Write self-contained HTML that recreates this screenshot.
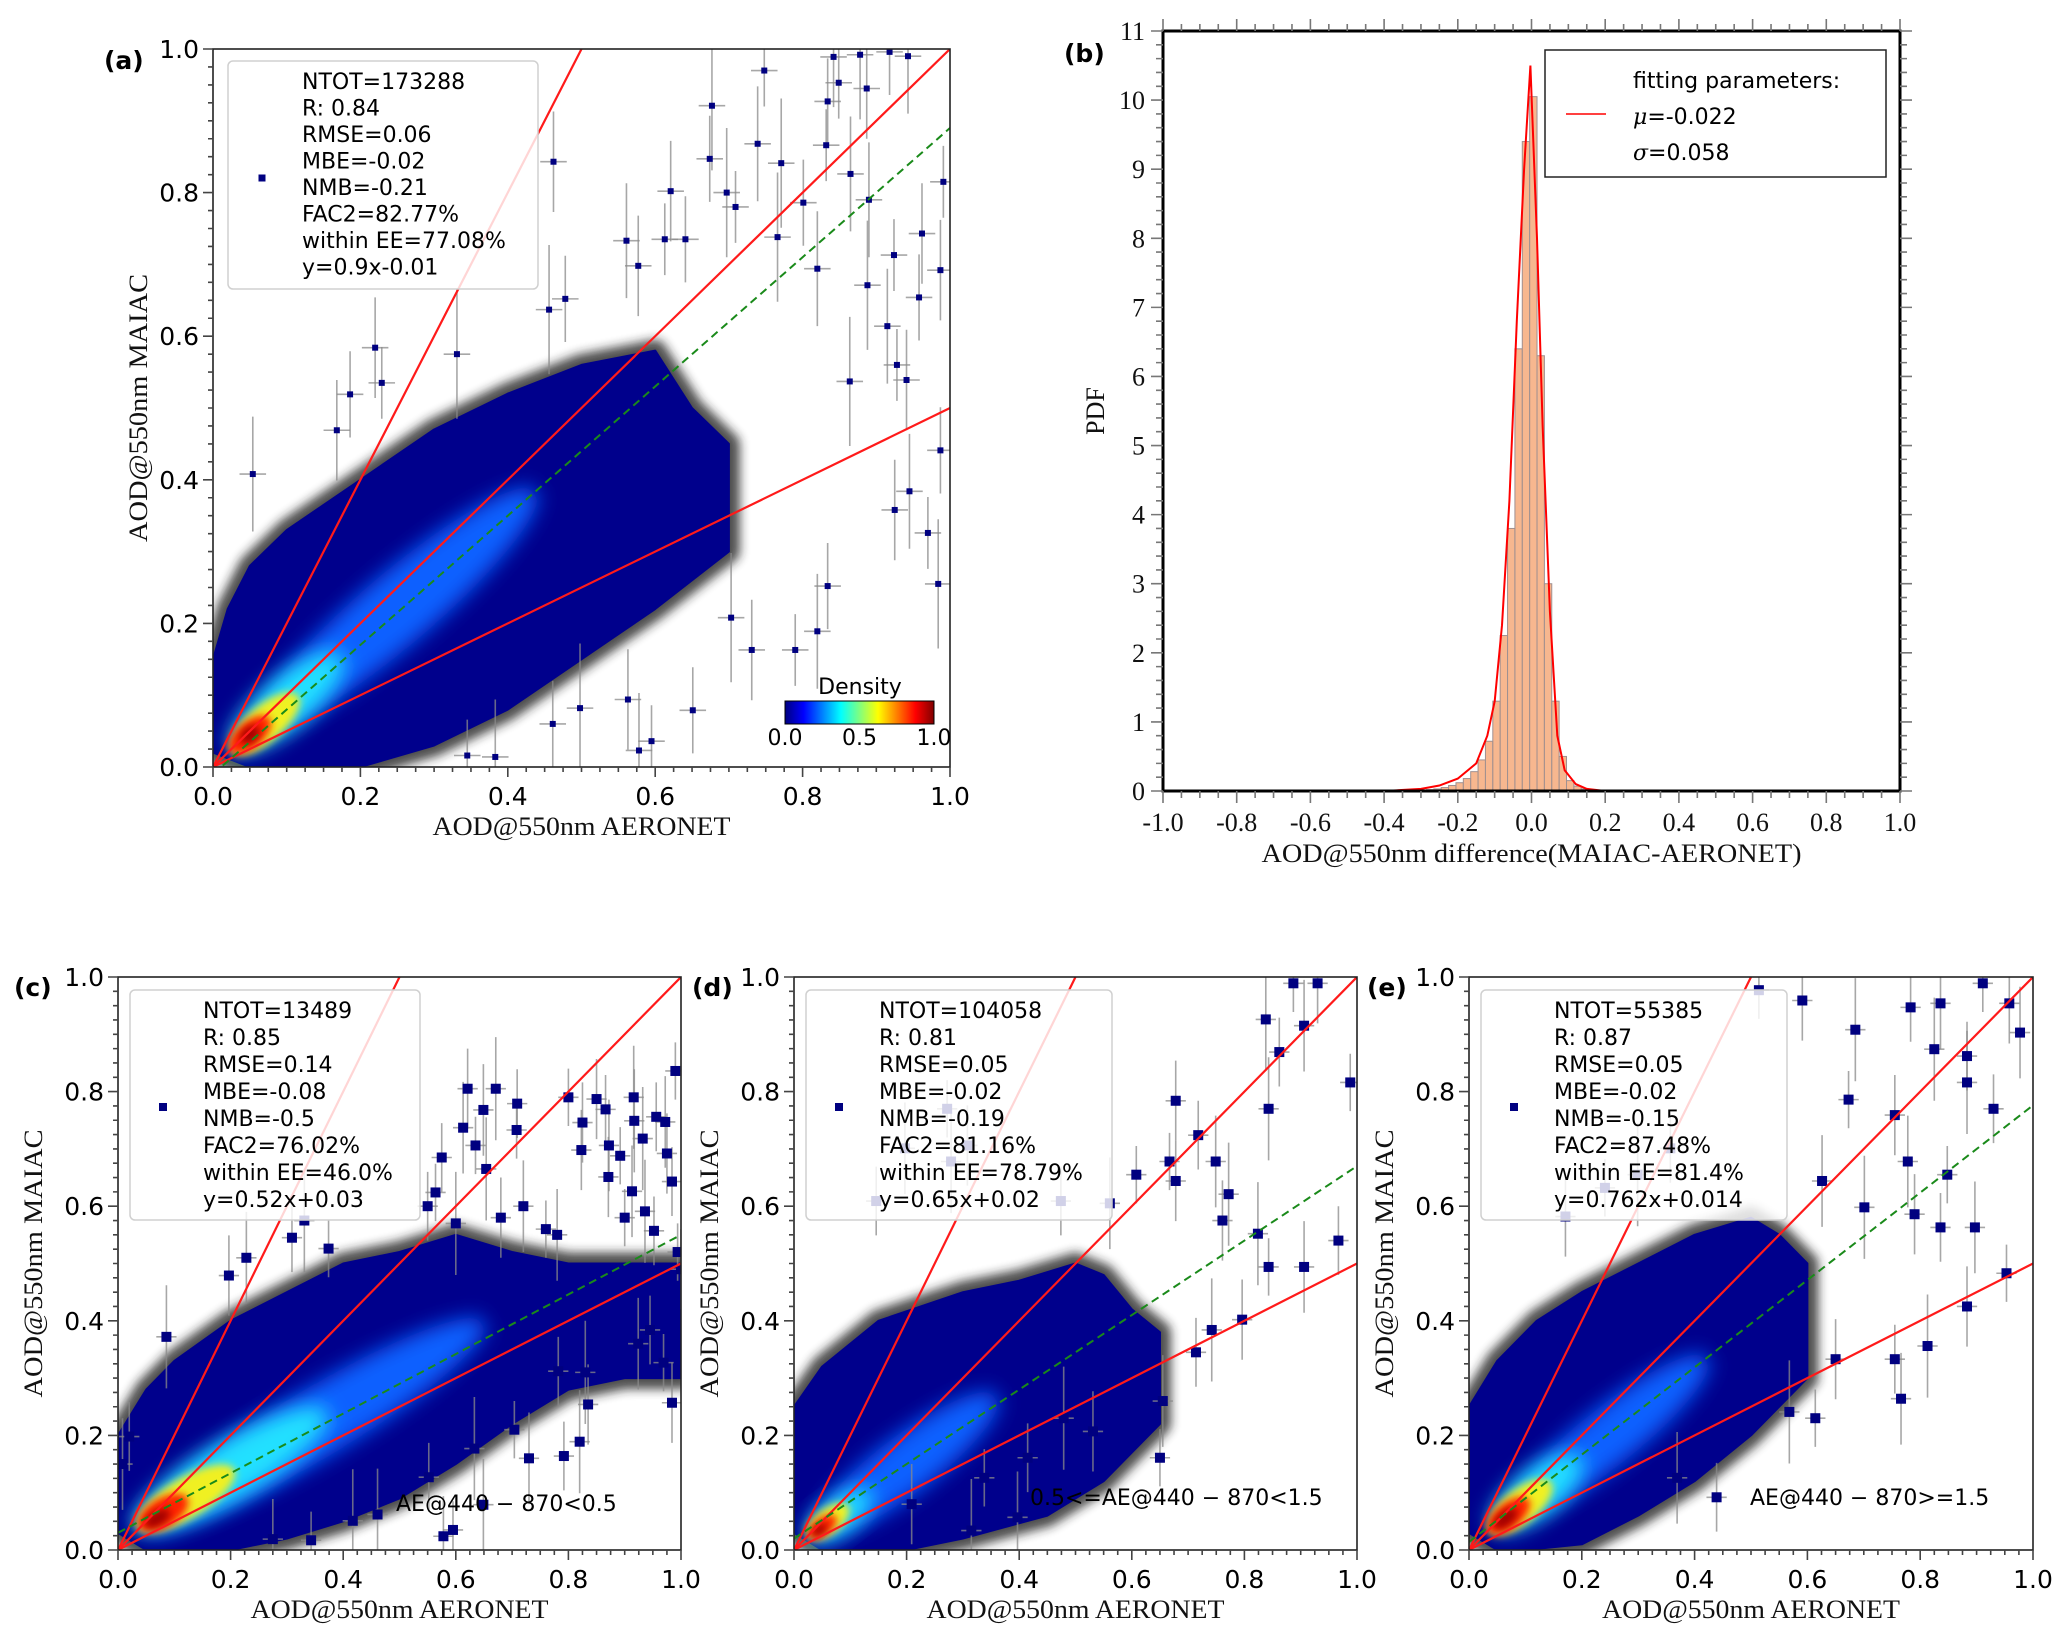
<!DOCTYPE html>
<html><head><meta charset="utf-8"><style>
html,body{margin:0;padding:0;background:#fff;}
svg{display:block;}
.tk{font-family:"DejaVu Sans","Liberation Sans",sans-serif;font-size:25px;fill:#000;}
.ser{font-family:"Liberation Serif","DejaVu Serif",serif;fill:#111;}
.lg{font-family:"DejaVu Sans","Liberation Sans",sans-serif;font-size:22px;fill:#000;}
</style></head><body>
<svg id="fig" xmlns="http://www.w3.org/2000/svg" width="2067" height="1632" viewBox="0 0 2067 1632">
<defs>
<filter id="blur" x="-50%" y="-50%" width="200%" height="200%"><feGaussianBlur stdDeviation="10"/></filter>
<filter id="blur2" x="-50%" y="-50%" width="200%" height="200%"><feGaussianBlur stdDeviation="4"/></filter>
<filter id="blur3" x="-20%" y="-20%" width="140%" height="140%"><feGaussianBlur stdDeviation="5"/></filter>
<linearGradient id="jet" x1="0" x2="1" y1="0" y2="0">
<stop offset="0" stop-color="#000080"/><stop offset="0.125" stop-color="#0000ff"/><stop offset="0.375" stop-color="#00ffff"/><stop offset="0.625" stop-color="#ffff00"/><stop offset="0.875" stop-color="#ff0000"/><stop offset="1" stop-color="#800000"/>
</linearGradient>
</defs>
</svg>
<script>
// ---------- Panel (a) data ----------
const aPtsX=[0.748,0.842,0.878,0.918,0.943,0.849,0.887,0.677,0.834,0.739,0.832,0.462,0.771,0.674,0.865,0.991,0.621,0.697,0.801,0.89,0.709,0.962,0.766,0.641,0.82,0.924,0.987,0.888,0.958,0.915,0.928,0.941,0.864,0.987,0.945,0.97,0.925,0.984,0.834,0.82,0.79,0.731,0.703,0.651,0.578,0.595,0.563,0.498,0.461,0.383,0.345,0.22,0.331,0.186,0.054,0.229,0.168,0.456,0.478,0.561,0.613,0.577];
const aPtsY=[0.970,0.989,0.992,0.996,0.99,0.953,0.945,0.921,0.927,0.868,0.866,0.843,0.841,0.847,0.826,0.815,0.802,0.8,0.786,0.79,0.78,0.743,0.738,0.735,0.694,0.713,0.692,0.671,0.654,0.614,0.56,0.539,0.537,0.441,0.384,0.326,0.358,0.255,0.252,0.189,0.163,0.163,0.208,0.079,0.023,0.036,0.094,0.082,0.06,0.014,0.016,0.584,0.575,0.519,0.408,0.535,0.469,0.637,0.652,0.733,0.735,0.698];
const aBandX=[0,0,0.02,0.05,0.1,0.2,0.3,0.4,0.5,0.6,0.65,0.7,0.7,0.6,0.5,0.4,0.3,0.2,0.05];
const aBandY=[0.02,0.15,0.22,0.28,0.33,0.4,0.47,0.52,0.56,0.58,0.5,0.45,0.3,0.22,0.15,0.08,0.03,0.0,0.0];
const aCoreX=[0.25,0.1,0.07,0.05,0.05];
const aCoreY=[0.22,0.09,0.06,0.045,0.045];
const aCoreLen=[0.25,0.1,0.06,0.035,0.015];
const aCoreWid=[0.05,0.035,0.025,0.018,0.01];
const aLegend=["NTOT=173288","R: 0.84","RMSE=0.06","MBE=-0.02","NMB=-0.21","FAC2=82.77%","within EE=77.08%","y=0.9x-0.01"];
const aFit=[0.9,-0.01];
// ---------- Panel (c) data ----------
const cPtsX=[0.99,0.621,0.671,0.709,0.649,0.8,0.85,0.916,0.866,0.613,0.708,0.825,0.917,0.956,0.972,0.635,0.823,0.932,0.575,0.872,0.892,0.975,0.654,0.984,0.913,0.564,0.871,0.331,0.309,0.228,0.374,0.197,0.086,0.945,0.924,0.969,0.984,0.82,0.792,0.73,0.704,0.835,0.83,0.782,0.649,0.595,0.578,0.633,0.552,0.461,0.343,0.275,0.417,0.02,0.008,0.994,1.0,0.936,0.952,0.72,0.76,0.68,0.6,0.55,0.78,0.9];
const cPtsY=[0.836,0.805,0.805,0.779,0.768,0.79,0.787,0.79,0.769,0.737,0.733,0.746,0.749,0.756,0.747,0.706,0.698,0.718,0.685,0.706,0.688,0.692,0.665,0.643,0.626,0.624,0.651,0.575,0.545,0.51,0.526,0.479,0.372,0.384,0.36,0.327,0.257,0.189,0.164,0.16,0.21,0.254,0.31,0.312,0.079,0.035,0.024,0.177,0.127,0.062,0.017,0.019,0.051,0.198,0.15,0.52,0.49,0.591,0.557,0.6,0.56,0.58,0.57,0.6,0.55,0.58];
const cBandX=[0,0,0.05,0.1,0.2,0.3,0.4,0.5,0.6,0.7,0.8,0.9,1.0,1.0,0.9,0.8,0.7,0.6,0.5,0.4,0.3,0.2,0.05];
const cBandY=[0.03,0.2,0.28,0.33,0.4,0.45,0.5,0.52,0.55,0.52,0.5,0.5,0.5,0.3,0.3,0.28,0.22,0.15,0.09,0.05,0.02,0.0,0.0];
const cCoreX=[0.35,0.2,0.12,0.08,0.07];
const cCoreY=[0.22,0.14,0.09,0.065,0.055];
const cCoreLen=[0.35,0.2,0.1,0.05,0.025];
const cCoreWid=[0.06,0.05,0.035,0.025,0.012];
const cLegend=["NTOT=13489","R: 0.85","RMSE=0.14","MBE=-0.08","NMB=-0.5","FAC2=76.02%","within EE=46.0%","y=0.52x+0.03"];
const cFit=[0.52,0.03];
// ---------- Panel (d) data ----------
const dPtsX=[0.887,0.93,0.838,0.862,0.906,0.988,0.678,0.843,0.718,0.749,0.608,0.678,0.772,0.967,0.906,0.843,0.796,0.742,0.714,0.655,0.65,0.531,0.479,0.415,0.397,0.338,0.209,0.315,0.146,0.197,0.272,0.308,0.279,0.474,0.561,0.667,0.761,0.824];
const dPtsY=[0.989,0.989,0.926,0.869,0.915,0.816,0.784,0.770,0.724,0.678,0.655,0.644,0.621,0.540,0.494,0.494,0.402,0.384,0.345,0.26,0.161,0.207,0.23,0.161,0.057,0.126,0.080,0.034,0.609,0.701,0.770,0.706,0.678,0.609,0.605,0.678,0.575,0.552];
const dBandX=[0,0,0.05,0.15,0.3,0.4,0.5,0.55,0.6,0.65,0.65,0.55,0.45,0.3,0.2,0.05];
const dBandY=[0.03,0.25,0.32,0.4,0.45,0.47,0.5,0.48,0.42,0.38,0.22,0.12,0.06,0.02,0.0,0.0];
const dCoreX=[0.2,0.08,0.06,0.05,0.045];
const dCoreY=[0.15,0.06,0.05,0.04,0.035];
const dCoreLen=[0.2,0.07,0.045,0.03,0.015];
const dCoreWid=[0.05,0.03,0.022,0.015,0.008];
const dLegend=["NTOT=104058","R: 0.81","RMSE=0.05","MBE=-0.02","NMB=-0.19","FAC2=81.16%","within EE=78.79%","y=0.65x+0.02"];
const dFit=[0.65,0.02];
// ---------- Panel (e) data ----------
const ePtsX=[0.514,0.591,0.685,0.783,0.836,0.911,0.958,0.825,0.883,0.977,0.673,0.755,0.883,0.93,0.778,0.848,0.79,0.701,0.836,0.897,0.953,0.883,0.813,0.755,0.766,0.614,0.65,0.568,0.439,0.369,0.241,0.171,0.299,0.357,0.626];
const ePtsY=[0.977,0.959,0.908,0.947,0.954,0.989,0.954,0.874,0.862,0.903,0.786,0.759,0.816,0.770,0.678,0.655,0.586,0.598,0.563,0.563,0.483,0.425,0.356,0.333,0.264,0.23,0.333,0.241,0.092,0.126,0.632,0.582,0.655,0.701,0.644];
const eBandX=[0,0,0.05,0.12,0.2,0.3,0.4,0.5,0.55,0.6,0.6,0.5,0.4,0.3,0.2,0.1,0.05];
const eBandY=[0.03,0.25,0.33,0.4,0.45,0.5,0.55,0.58,0.55,0.5,0.3,0.2,0.12,0.06,0.01,0.0,0.0];
const eCoreX=[0.25,0.12,0.09,0.07,0.065];
const eCoreY=[0.2,0.1,0.075,0.06,0.055];
const eCoreLen=[0.22,0.1,0.07,0.045,0.025];
const eCoreWid=[0.05,0.04,0.03,0.022,0.012];
const eLegend=["NTOT=55385","R: 0.87","RMSE=0.05","MBE=-0.02","NMB=-0.15","FAC2=87.48%","within EE=81.4%","y=0.762x+0.014"];
const eFit=[0.762,0.014];
// ---------- Panel (b) data ----------
const binLeft=[-0.325,-0.305,-0.285,-0.265,-0.245,-0.225,-0.205,-0.185,-0.165,-0.145,-0.125,-0.105,-0.085,-0.065,-0.045,-0.025,-0.005,0.015,0.035,0.055,0.075,0.095,0.115,0.135];
const binPdf=[0.01,0.01,0.02,0.03,0.05,0.08,0.12,0.18,0.28,0.45,0.72,1.3,2.25,3.8,6.4,9.4,10.05,6.3,3.0,1.3,0.5,0.15,0.07,0.03];
const fitX=[-1.0,-0.4,-0.3,-0.25,-0.2,-0.15,-0.12,-0.1,-0.08,-0.06,-0.04,-0.02,-0.003,0.015,0.03,0.05,0.07,0.09,0.12,0.15,0.2,1.0];
const fitY=[0,0,0.03,0.08,0.18,0.4,0.8,1.3,2.4,4.2,6.8,9.0,10.5,8.0,5.3,2.6,0.8,0.3,0.1,0.03,0.0,0];
const bXTicks=["-1.0","-0.8","-0.6","-0.4","-0.2","0.0","0.2","0.4","0.6","0.8","1.0"];
const bYTicks=["0","1","2","3","4","5","6","7","8","9","10","11"];
const sTicks=["0.0","0.2","0.4","0.6","0.8","1.0"];

const NS="http://www.w3.org/2000/svg";
const svg=document.getElementById('fig');
function mk(tag,attrs,parent){const e=document.createElementNS(NS,tag);for(const k in attrs)e.setAttribute(k,attrs[k]);(parent||svg).appendChild(e);return e;}
let clipN=0;

function scatterPanel(P){
  const g=mk('g',{});
  
  
  const sx=v=>P.x0+(P.x1-P.x0)*v, sy=v=>P.y1-(P.y1-P.y0)*v;
  const W=P.x1-P.x0,H=P.y1-P.y0;
  const cid='clip'+(clipN++);
  const cp=mk('clipPath',{id:cid},g);
  mk('rect',{x:P.x0,y:P.y0,width:W,height:H},cp);
  const plot=mk('g',{'clip-path':'url(#'+cid+')'},g);
  
  
  let d='';
  for(let i=0;i<P.bx.length;i++)d+=(i?'L':'M')+sx(P.bx[i]).toFixed(1)+','+sy(P.by[i]).toFixed(1);
  d+='Z';
  const halo=mk('path',{d:d,fill:'#111',stroke:'#222','stroke-width':22,'stroke-linejoin':'round',opacity:0.8,filter:'url(#blur3)'},plot);
  
  
  const band=mk('path',{d:d,fill:'#00008c',stroke:'#00008c','stroke-width':2,'stroke-linejoin':'round'},plot);
  
  
  const cols=['#1060ff','#20e0ff','#f0f020','#ff2000','#a00000'];
  const m=(P.cy[0]-P.cy[P.cy.length-1])/(P.cx[0]-P.cx[P.cx.length-1]||1);
  const dxp=W, dyp=H*m; const ang=Math.atan2(-dyp,dxp)*180/Math.PI;
  const unitLen=Math.sqrt(dxp*dxp+dyp*dyp)/Math.sqrt(1+m*m);
  for(let i=0;i<P.cx.length;i++){
    const e=mk('ellipse',{cx:sx(P.cx[i]),cy:sy(P.cy[i]),rx:P.cl[i]*unitLen,ry:P.cw[i]*H,fill:cols[i],filter:i<2?'url(#blur)':'url(#blur2)',transform:'rotate('+ang+' '+sx(P.cx[i])+' '+sy(P.cy[i])+')'},plot);
    
    
  }
  for(let i=0;i<P.px.length;i++){
    const x=sx(P.px[i]),y=sy(P.py[i]);
    const ey=(0.05+0.04*((i*7)%5)/4)*H, ex=0.018*W;
    const eb=mk('path',{d:'M'+x+','+(y-ey)+'V'+(y+ey)+'M'+(x-ex)+','+y+'H'+(x+ex),stroke:'#8a8a8a','stroke-width':1.6,opacity:0.75},plot);
    
    
  }
  for(let i=0;i<P.px.length;i++){
    const x=sx(P.px[i]),y=sy(P.py[i]),s=P.ms;
    const r=mk('rect',{x:x-s/2,y:y-s/2,width:s,height:s,fill:'#000080'},plot);
    
    
  }
  const refs=[[2,0],[1,0],[0.5,0]];
  refs.forEach((r,i)=>{
    const l=mk('line',{x1:sx(0),y1:sy(r[1]),x2:sx(1),y2:sy(r[0]+r[1]),stroke:'#ff1a1a','stroke-width':2.2},plot);
    
    
  });
  const fl=mk('line',{x1:sx(0),y1:sy(P.fit[1]),x2:sx(1),y2:sy(P.fit[0]+P.fit[1]),stroke:'#1a8a1a','stroke-width':2,'stroke-dasharray':'8,5'},plot);
  
  
  const fr=mk('rect',{x:P.x0,y:P.y0,width:W,height:H,fill:'none',stroke:'#222','stroke-width':1.6},g);
  
  
  let td='';
  for(let k=0;k<=40;k++){const v=k/40;const len=(k%8===0)?10:5;
    td+='M'+sx(v)+','+P.y1+'V'+(P.y1+len);
    td+='M'+P.x0+','+sy(v)+'H'+(P.x0-len);}
  const tk=mk('path',{d:td,stroke:'#444','stroke-width':1.6},g);
  
  
  sTicks.forEach((t,i)=>{
    const v=i/(sTicks.length-1);
    const xt=mk('text',{x:sx(v),y:P.y1+38,'text-anchor':'middle',class:'tk'},g);xt.textContent=t;
    
    
    const yt=mk('text',{x:P.x0-14,y:sy(v)+9,'text-anchor':'end',class:'tk'},g);yt.textContent=t;
    
    
  });
  const xl=mk('text',{x:(P.x0+P.x1)/2,y:P.y1+68,'text-anchor':'middle',class:'ser','font-size':26,textLength:298,lengthAdjust:'spacingAndGlyphs'},g);
  xl.textContent='AOD@550nm AERONET';
  
  
  const yc=(P.y0+P.y1)/2, ylx=P.x0-P.ylo;
  const yl=mk('text',{x:ylx,y:yc,'text-anchor':'middle',class:'ser','font-size':26,textLength:268,lengthAdjust:'spacingAndGlyphs',transform:'rotate(-90 '+ylx+' '+yc+')'},g);
  yl.textContent='AOD@550nm MAIAC';
  
  
  const L=P.leg;
  const lb=mk('rect',{x:L.x,y:L.y,width:L.w,height:L.h,rx:5,fill:'rgba(255,255,255,0.82)',stroke:'#d0d0d0','stroke-width':1.5},g);
  
  
  const lm=mk('rect',{x:L.mx-L.ms/2,y:L.my-L.ms/2,width:L.ms,height:L.ms,fill:'#000080'},g);
  
  
  P.lines.forEach((t,i)=>{
    const tx=mk('text',{x:L.tx,y:L.ty+i*L.dy,class:'lg'},g);tx.textContent=t;
    
    
  });
  const pl=mk('text',{x:P.lab[0],y:P.lab[1],'font-family':'"DejaVu Sans","Liberation Sans",sans-serif','font-weight':'bold','font-size':25},g);
  pl.textContent=P.label;
  
  
  if(P.ann){const an=mk('text',{x:P.ann[0],y:P.ann[1],class:'lg','font-size':23},g);an.textContent=P.annText;
    
    }
  return g;
}

scatterPanel({name:'panel-a',x0:213,x1:950,y0:49,y1:767,px:aPtsX,py:aPtsY,bx:aBandX,by:aBandY,cx:aCoreX,cy:aCoreY,cl:aCoreLen,cw:aCoreWid,fit:aFit,ms:6,ylo:66,
  leg:{x:228,y:61,w:310,h:228,tx:302,ty:89,dy:26.5,mx:262,my:178,ms:7},lines:aLegend,label:'(a)',lab:[104,69]});
scatterPanel({name:'panel-c',x0:118,x1:681,y0:977,y1:1550,px:cPtsX,py:cPtsY,bx:cBandX,by:cBandY,cx:cCoreX,cy:cCoreY,cl:cCoreLen,cw:cCoreWid,fit:cFit,ms:10,ylo:76,
  leg:{x:130,y:990,w:290,h:230,tx:203,ty:1018,dy:27,mx:163,my:1107,ms:8},lines:cLegend,label:'(c)',lab:[14,996],ann:[396,1511],annText:'AE@440 − 870<0.5'});
scatterPanel({name:'panel-d',x0:794,x1:1357,y0:977,y1:1550,px:dPtsX,py:dPtsY,bx:dBandX,by:dBandY,cx:dCoreX,cy:dCoreY,cl:dCoreLen,cw:dCoreWid,fit:dFit,ms:10,ylo:76,
  leg:{x:806,y:990,w:306,h:230,tx:879,ty:1018,dy:27,mx:839,my:1107,ms:8},lines:dLegend,label:'(d)',lab:[692,996],ann:[1030,1505],annText:'0.5<=AE@440 − 870<1.5'});
scatterPanel({name:'panel-e',x0:1469,x1:2033,y0:977,y1:1550,px:ePtsX,py:ePtsY,bx:eBandX,by:eBandY,cx:eCoreX,cy:eCoreY,cl:eCoreLen,cw:eCoreWid,fit:eFit,ms:10,ylo:76,
  leg:{x:1481,y:990,w:306,h:230,tx:1554,ty:1018,dy:27,mx:1514,my:1107,ms:8},lines:eLegend,label:'(e)',lab:[1367,996],ann:[1750,1505],annText:'AE@440 − 870>=1.5'});

(function(){
  const g=mk('g',{});
  
  
  const bar=mk('rect',{x:785,y:701,width:149,height:23,fill:'url(#jet)',stroke:'#000','stroke-width':1},g);
  
  
  const t=mk('text',{x:860,y:694,'text-anchor':'middle',class:'lg','font-size':18},g);t.textContent='Density';
  
  
  ['0.0','0.5','1.0'].forEach((s,i)=>{const tx=mk('text',{x:785+i*74.5,y:745,'text-anchor':'middle',class:'lg','font-size':15},g);tx.textContent=s;
    
    });
})();

(function(){
  const X0=1163,X1=1900,Y0=31,Y1=791;
  const sx=v=>X0+(X1-X0)*(v+1)/2, sy=v=>Y1-(Y1-Y0)*v/11;
  const g=mk('g',{});
  
  
  for(let i=0;i<binLeft.length;i++){
    const x=sx(binLeft[i]),w=sx(binLeft[i]+0.02)-x;
    const r=mk('rect',{x:x,y:sy(binPdf[i]),width:w,height:Y1-sy(binPdf[i]),fill:'rgba(245,165,115,0.8)',stroke:'#a09090','stroke-width':1},g);
    
    
  }
  let d='';fitX.forEach((v,i)=>{d+=(i?'L':'M')+sx(v).toFixed(1)+','+sy(fitY[i]).toFixed(1);});
  const c=mk('path',{d:d,fill:'none',stroke:'#ff0000','stroke-width':2},g);
  
  
  const fr=mk('rect',{x:X0,y:Y0,width:X1-X0,height:Y1-Y0,fill:'none',stroke:'#000','stroke-width':3},g);
  
  
  let td='';
  for(let k=0;k<=40;k++){const v=-1+k*0.05,len=(k%4===0)?12:7;
    td+='M'+sx(v)+','+Y1+'V'+(Y1+len)+'M'+sx(v)+','+Y0+'V'+(Y0-len);}
  for(let k=0;k<=55;k++){const v=k*0.2,len=(k%5===0)?12:7;
    td+='M'+X0+','+sy(v)+'H'+(X0-len)+'M'+X1+','+sy(v)+'H'+(X1+len);}
  const tk=mk('path',{d:td,stroke:'#777','stroke-width':1.6},g);
  
  
  bXTicks.forEach((t,i)=>{const xt=mk('text',{x:sx(-1+i*0.2),y:Y1+40,'text-anchor':'middle',class:'ser','font-size':26},g);xt.textContent=t;
    
    });
  bYTicks.forEach((t,i)=>{const yt=mk('text',{x:X0-18,y:sy(i)+9,'text-anchor':'end',class:'ser','font-size':26},g);yt.textContent=t;
    
    });
  const xl=mk('text',{x:(X0+X1)/2,y:862,'text-anchor':'middle',class:'ser','font-size':26,textLength:540,lengthAdjust:'spacingAndGlyphs'},g);
  xl.textContent='AOD@550nm difference(MAIAC-AERONET)';
  
  
  const yl=mk('text',{x:1104,y:411,'text-anchor':'middle',class:'ser','font-size':26,transform:'rotate(-90 1104 411)'},g);
  yl.textContent='PDF';
  
  
  const lb=mk('rect',{x:1545,y:50,width:341,height:127,fill:'#fff',stroke:'#222','stroke-width':1.5},g);
  
  
  const ll=mk('line',{x1:1566,y1:114,x2:1606,y2:114,stroke:'#ff0000','stroke-width':1.5},g);
  
  
  const lt=[['fitting parameters:',88,''],['=-0.022',124,'μ'],['=0.058',160,'σ']];
  lt.forEach(a=>{
    const t=mk('text',{x:1633,y:a[1],class:'lg','font-size':28},g);
    if(a[2]){const s=mk('tspan',{'font-style':'italic','font-family':'"DejaVu Serif",serif'},t);s.textContent=a[2];const s2=mk('tspan',{},t);s2.textContent=a[0];}
    else t.textContent=a[0];
    
    });
  const pl=mk('text',{x:1064,y:62,'font-family':'"DejaVu Sans","Liberation Sans",sans-serif','font-weight':'bold','font-size':25},g);
  pl.textContent='(b)';
  
  
})();
</script>
</body></html>
